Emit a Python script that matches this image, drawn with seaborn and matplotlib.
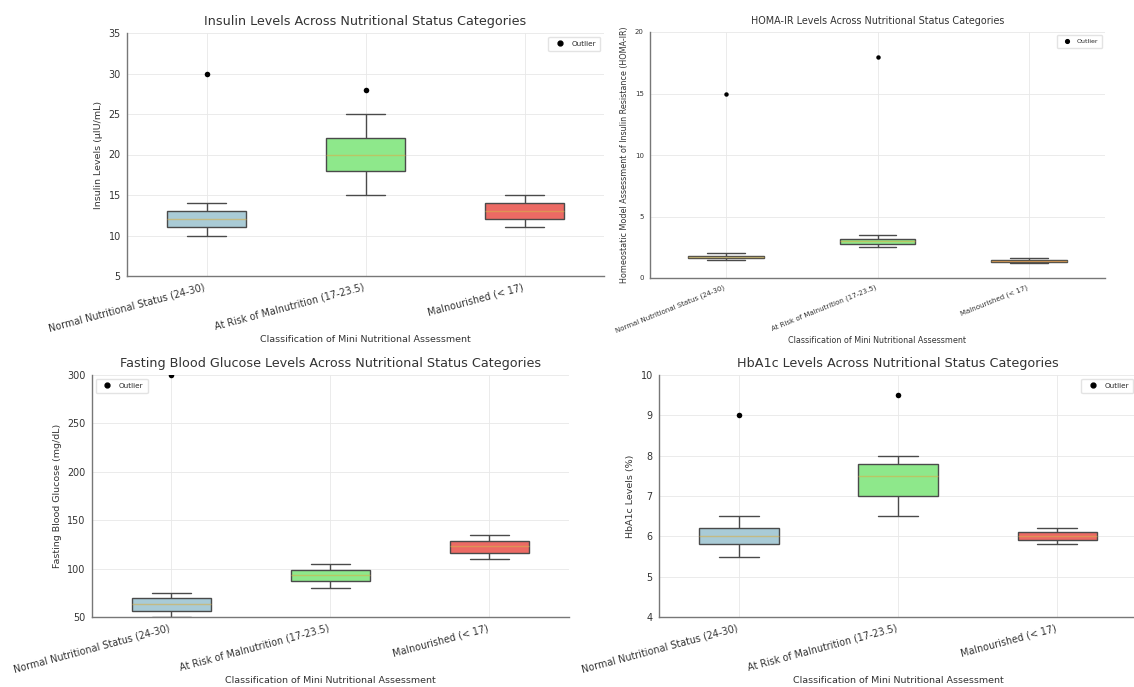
import pandas as pd
import seaborn as sns
import matplotlib.pyplot as plt
from matplotlib.lines import Line2D

# categories and colours
categories = ['Normal Nutritional Status (24-30)',
              'At Risk of Malnutrition (17-23.5)',
              'Malnourished (< 17)']
box_colors = ['#a9cbd6', '#8ee88b', '#ec6a64']

# box values per group: min, q1, median, q3, max
insulin_normal = [10, 11, 12, 13, 14]
insulin_risk = [15, 18, 20, 22, 25]
insulin_mal = [11, 12, 13, 14, 15]
insulin_out_cat = [categories[0], categories[1]]
insulin_out_val = [30, 28]

homa_normal = [1.5, 1.6, 1.7, 1.8, 2.0]
homa_risk = [2.5, 2.8, 3.0, 3.2, 3.5]
homa_mal = [1.2, 1.3, 1.4, 1.5, 1.6]
homa_out_cat = [categories[0], categories[1]]
homa_out_val = [15, 18]

glucose_normal = [50, 56, 63, 70, 75]
glucose_risk = [80, 87, 93, 99, 105]
glucose_mal = [110, 116, 123, 129, 135]
glucose_out_cat = [categories[0]]
glucose_out_val = [300]

hba1c_normal = [5.5, 5.8, 6.0, 6.2, 6.5]
hba1c_risk = [6.5, 7.0, 7.5, 7.8, 8.0]
hba1c_mal = [5.8, 5.9, 6.0, 6.1, 6.2]
hba1c_out_cat = [categories[0], categories[1]]
hba1c_out_val = [9.0, 9.5]

sns.set_style('whitegrid')
plt.rcParams['font.family'] = ['DejaVu Sans']

W, H = 1134, 687
fig = plt.figure(figsize=(W / 100, H / 100), dpi=100)


def px_axes(x0, y0, x1, y1):
    return fig.add_axes([x0 / W, 1 - y1 / H, (x1 - x0) / W, (y1 - y0) / H])


def draw(ax, groups, out_cat, out_val, title, ylabel, ylim, yticks,
         loc, fs):
    df = pd.DataFrame({
        'cat': [c for c, g in zip(categories, groups) for _ in g],
        'val': [v for g in groups for v in g],
    })
    sns.boxplot(data=df, x='cat', y='val', hue='cat', order=categories,
                palette=box_colors, saturation=1, width=0.5, whis=(0, 100),
                showfliers=False, linecolor='#4a4a4a', linewidth=1,
                medianprops=dict(color='#d6b04c', linewidth=1, alpha=0.6),
                legend=False, ax=ax)
    out = pd.DataFrame({'cat': out_cat, 'val': out_val})
    sns.stripplot(data=out, x='cat', y='val', order=categories,
                  color='black', jitter=False, size=fs['dot'], ax=ax)
    ax.set_xlim(-0.5, 2.5)
    ax.set_ylim(*ylim)
    ax.set_yticks(yticks)
    ax.grid(True, axis='both', color='#e8e8e8', linewidth=0.6)
    ax.set_axisbelow(True)
    for s in ['top', 'right']:
        ax.spines[s].set_visible(False)
    for s in ['left', 'bottom']:
        ax.spines[s].set_color('#777777')
        ax.spines[s].set_linewidth(1)
    ax.tick_params(axis='both', length=2.5, color='#777777',
                   labelsize=fs['tick'], labelcolor='#333333', pad=2)
    for lab in ax.get_xticklabels():
        lab.set_rotation(fs['rot'])
        lab.set_ha('right')
    ax.set_title(title, fontsize=fs['title'], color='#333333', pad=6)
    ax.set_xlabel('Classification of Mini Nutritional Assessment',
                  fontsize=fs['label'], color='#333333', labelpad=1)
    ax.set_ylabel(ylabel, fontsize=fs['label'], color='#333333', labelpad=4)
    handle = Line2D([], [], marker='o', color='black', linestyle='',
                    markersize=fs['dot'] - 0.5, label='Outlier')
    ax.legend(handles=[handle], loc=loc, fontsize=fs['leg'], frameon=True,
              edgecolor='#dddddd', handletextpad=0.6, borderpad=0.6)


big = dict(title=9.2, label=6.8, tick=6.9, leg=5.2, dot=4, rot=15)
small = dict(title=6.9, label=5.8, tick=5.0, leg=4.5, dot=3.2, rot=22)

ax1 = px_axes(127, 33, 604, 276)
draw(ax1, [insulin_normal, insulin_risk, insulin_mal],
     insulin_out_cat, insulin_out_val,
     'Insulin Levels Across Nutritional Status Categories',
     'Insulin Levels (µIU/mL)', (5, 35), range(5, 36, 5),
     'upper right', big)

ax2 = px_axes(650, 32, 1105, 278)
draw(ax2, [homa_normal, homa_risk, homa_mal],
     homa_out_cat, homa_out_val,
     'HOMA-IR Levels Across Nutritional Status Categories',
     'Homeostatic Model Assessment of Insulin Resistance (HOMA-IR)',
     (0, 20), range(0, 21, 5), 'upper right', small)

ax3 = px_axes(92, 375, 569, 617)
draw(ax3, [glucose_normal, glucose_risk, glucose_mal],
     glucose_out_cat, glucose_out_val,
     'Fasting Blood Glucose Levels Across Nutritional Status Categories',
     'Fasting Blood Glucose (mg/dL)', (50, 300), range(50, 301, 50),
     'upper left', big)

ax4 = px_axes(659, 375, 1137, 617)
draw(ax4, [hba1c_normal, hba1c_risk, hba1c_mal],
     hba1c_out_cat, hba1c_out_val,
     'HbA1c Levels Across Nutritional Status Categories',
     'HbA1c Levels (%)', (4, 10), range(4, 11),
     'upper right', big)

fig.savefig('out.png', dpi=100)
